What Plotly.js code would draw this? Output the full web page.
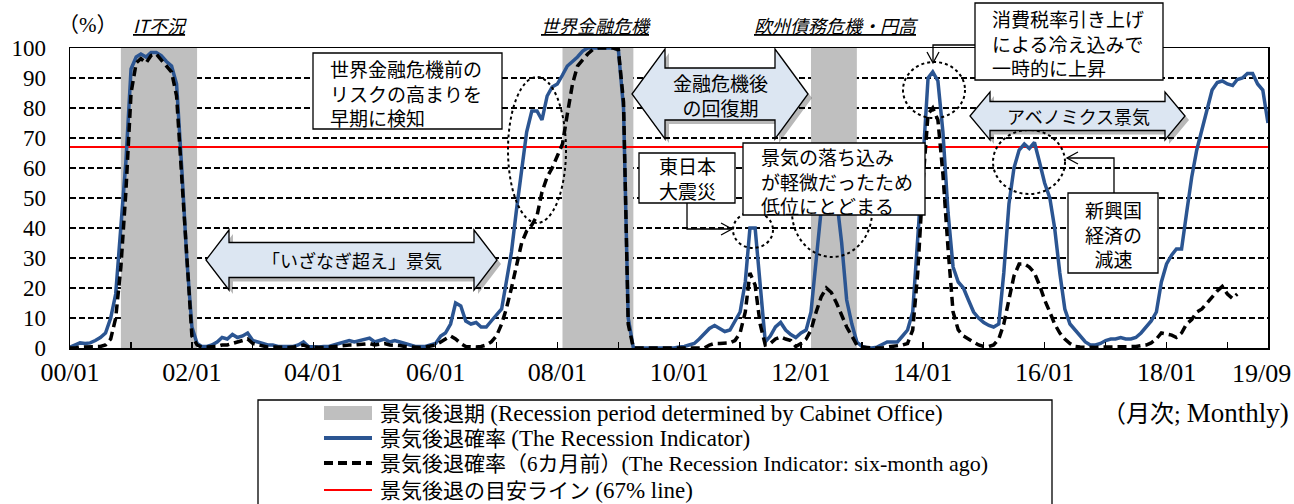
<!DOCTYPE html>
<html><head><meta charset="utf-8">
<script src="https://cdn.plot.ly/plotly-3.0.1.min.js"></script>
<style>html,body{margin:0;padding:0;background:#fff}#chart{width:1294px;height:504px}</style>
</head><body><div id="chart"></div>
<script>
// ---------------- DATA ----------------
const startYear = 2000;
// 景気後退確率 (The Recession Indicator), monthly 2000/01 - 2019/09
const recessionIndicator = [
 0.3,1,1.7,1.5,1.7,2.5,3.5,5,10,18,40,62,
 93,97,98,97,98.5,98.5,97.5,95.5,94,88,60,30,
 7,1.5,0.5,0.5,1,2,3.5,3,4.5,3.5,4,5,
 2.5,2,1.5,1,1,0.5,0.5,0.5,0.5,1,2,0.5,
 0.3,0.3,0.5,0.5,1,1.5,2,2.5,2,2.5,3,3.3,
 2,2.5,3,2,2.5,2,1.5,1,0.5,0.5,0.5,1,
 1.5,4,5,8,15,14,9,8,8.5,7,7,9,
 11,13,22,32,46,60,72,79,79,76,84,87,
 88,91,94,95.5,97,99,100,100,100,100,100,100,
 99.5,80,10,0,0,0,0,0,0,0,0,0,
 0.3,0.5,1,1.5,3,5,6.5,7.5,6.5,5.5,6,9,
 12,22,40,40,20,2,4,7,8.5,6,4.5,3.5,
 5,6,12,30,46,58,56,50,35,16,8,2,
 0.5,0,0,0.3,1,2,2,2,4,6,12,35,
 62,90,92,89,72,45,27,22,20,16,12,10,
 8.5,7.5,7,8,25,48,60,66,68,66.5,68.5,62,
 55,50,40,25,13,8,6,4,2,1,1,1.5,
 2.5,3,3,3.5,3,3,3.5,5,7,9,12,22,
 28,31,33,33,45,57,66,73,80,86,88.5,89,
 88,87.5,89.5,90,91.5,91.5,88,86,75
];
// 景気後退確率（6カ月前）(six-month ago), monthly 2000/01 - 2019/03
const recessionIndicator6m = [
 0,0,0.3,0.3,0.3,0.3,0.5,1,3,10,27,52,
 85,95,96.5,95,97.5,98,96,94,92,84,57,27,
 4,1,0.3,0.3,0.3,0.5,1,1,1.5,2,2.5,3,
 1.5,1,0.5,0.3,0.3,0.2,0.2,0.2,0.3,0.5,1,0.3,
 0.2,0.2,0.2,0.3,0.5,0.5,0.8,1,1,1.2,1.5,1.5,
 1,1.2,1.5,1,1,0.8,0.5,0.3,0.2,0.2,0.3,0.5,
 1,2,3,4,3,1.5,0.5,0.3,0.3,0.5,1,2,
 4,8,13,20,27,35,39,41,44,52,57,60,
 64,68,78,88,94,96,98,99.5,100,100,100,100,
 99.5,82,8,0,0,0,0,0,0,0,0,0,
 0,0,0,0,0,0,1,1.5,1.5,1.5,1.7,2.5,
 5,12,25,21,8,1,1.5,3,3.7,3,2.5,0.5,
 1.5,3,6,12,17,20,18.5,15,11,7,4,1,
 0.3,0,0,0,0,0.3,0.5,1,1,1.5,6,25,
 55,78,80,76,58,33,12,6,4,3,2,1,
 0.5,0.5,1,3,8,16,24,28,28,27,25,21,
 16,12,8,5,3,1.5,0.5,0.3,0.2,0.2,0.2,0.3,
 0.3,0.5,0.5,0.5,0.5,0.5,0.5,0.8,1,1.7,3,5,
 4.5,4.3,3.5,5,8,9.5,12,13,15,17,19,20.5,
 18,16.5,18
];
const thresholdValue = 67;
const recessionPeaks   = ['2000-11','2008-02','2012-03'];
const recessionTroughs = ['2002-01','2009-03','2012-11'];
const tickLabels = ['00/01','02/01','04/01','06/01','08/01','10/01','12/01','14/01','16/01','18/01','19/09'];
const seriesNamesJP = ['景気後退期 ','景気後退確率 ','景気後退確率（6カ月前）','景気後退の目安ライン '];
const seriesNamesEN = ['(Recession period determined by Cabinet Office)','(The Recession Indicator)','(The Recession Indicator: six-month ago)','(67% line)'];

// ---------------- helpers ----------------
function monthDate(i){ const y = startYear + Math.floor(i/12), m = i%12+1; return y+'-'+String(m).padStart(2,'0')+'-01'; }
function nextMonth(ym){ let [y,m]=ym.split('-').map(Number); m++; if(m>12){m=1;y++;} return y+'-'+String(m).padStart(2,'0')+'-01'; }
const xBlue = recessionIndicator.map((_,i)=>monthDate(i));
const xDash = recessionIndicator6m.map((_,i)=>monthDate(i));
const tickVals = tickLabels.map(l=>'20'+l.slice(0,2)+'-'+l.slice(3)+'-01');
const lastLabel = tickLabels[tickLabels.length-1];
// the final label sits at the right edge; it is drawn as an annotation so it is not clipped
const tickText = tickLabels.map((l,i)=> i===tickLabels.length-1 ? '' : l);
const seriesNames = seriesNamesJP.map((j,i)=>j+seriesNamesEN[i]);

const recX=[], recY=[];
recessionPeaks.forEach((p,i)=>{
  const s=p+'-01', e=nextMonth(recessionTroughs[i]);
  recX.push(s,s,e,e,s,null); recY.push(0,100,100,0,0,null);
});

// plot area in pixels (for decorations)
const L=70, R=1268, T=48, B=348;
const px = x => (x-L)/(R-L);
const py = y => (B-y)/(B-T);
function path(pts, close){ return pts.map((p,i)=>(i?'L':'M')+px(p[0]).toFixed(5)+','+py(p[1]).toFixed(5)).join(' ')+(close?' Z':''); }
function dblArrow(xl,xr,yc,hh,sh,hl){
  return [[xl,yc],[xl+hl,yc-hh],[xl+hl,yc-sh],[xr-hl,yc-sh],[xr-hl,yc-hh],[xr,yc],[xr-hl,yc+hh],[xr-hl,yc+sh],[xl+hl,yc+sh],[xl+hl,yc+hh]];
}
function shift(pts,d){ return pts.map(p=>[p[0]+d,p[1]+d]); }
const shapes=[];
function addBlockArrow(pts){
  shapes.push({type:'path',xref:'paper',yref:'paper',path:path(shift(pts,4),true),fillcolor:'rgba(0,0,0,0.28)',line:{width:0}});
  shapes.push({type:'path',xref:'paper',yref:'paper',path:path(pts,true),fillcolor:'#dce6f2',line:{color:'#000',width:1.3}});
}
function addCircle(cx,cy,rx,ry){
  shapes.push({type:'circle',xref:'paper',yref:'paper',x0:px(cx-rx),x1:px(cx+rx),y0:py(cy+ry),y1:py(cy-ry),line:{color:'#000',width:2,dash:'dot'}});
}
function addBox(x0,y0,x1,y1,fill,lw){
  shapes.push({type:'rect',xref:'paper',yref:'paper',x0:px(x0),x1:px(x1),y0:py(y1),y1:py(y0),fillcolor:fill||'#fff',line:{color:'#000',width:lw===undefined?1.3:lw}});
}
function addLine(pts,color,width,dash){
  shapes.push({type:'path',xref:'paper',yref:'paper',path:path(pts,false),line:{color:color||'#000',width:width||1.3,dash:dash||'solid'}});
}

// dotted circles
addCircle(537,150,29,73);
addCircle(753,230,20,18);
addCircle(832,212,40,45);
addCircle(934,90,31,28);
addCircle(1029,162,36,32);
// block arrows
addBlockArrow(dblArrow(206,497,260,30,17.5,23));
addBlockArrow(dblArrow(632,808,94,45,26,33));
addBlockArrow(dblArrow(970,1185,116,24,14.5,20));
// boxes
addBox(313,53,502,129);
addBox(639,153,735,203);
addBox(743,143,925,215);
addBox(975,3,1163,80);
addBox(1068,193,1158,273);
// connector lines & arrowheads
addLine([[975,45],[933,45],[933,62]]); addLine([[927,52],[933,63],[939,52]]);
addLine([[1114,193],[1114,158],[1067,158]]); addLine([[1078,152],[1067,158],[1078,164]]);
addLine([[687,203],[687,229],[732,229]]); addLine([[721,223],[732,229],[721,235]]);
// legend frame and swatches
addBox(258,400,1052,530);
const legendRowsY=[413,438,463,490];
addBox(324,406,372,420,'#bfbfbf',0);
addLine([[324,legendRowsY[1]],[372,legendRowsY[1]]],'#2b5592',4);
addLine([[324,legendRowsY[2]],[372,legendRowsY[2]]],'#000',4,'9px,5px');
addLine([[324,legendRowsY[3]],[372,legendRowsY[3]]],'#ff0000',2);

const JP = 'Noto Sans CJK JP, sans-serif';
const SERIF = 'Liberation Serif, Noto Sans CJK JP, serif';
function ann(text,x,y,opts){
  return Object.assign({text:text,xref:'paper',yref:'paper',x:px(x),y:py(y),showarrow:false,
    xanchor:'center',yanchor:'middle',align:'center',font:{family:JP,size:19,color:'#000'}},opts||{});
}
const annotations=[
 ann('（%）',88,25,{font:{family:SERIF,size:21,color:'#000'}}),
 ann('<i><u>IT不況</u></i>',160,25,{font:{family:JP,size:18,color:'#000'}}),
 ann('<i><u>世界金融危機</u></i>',596,25,{font:{family:JP,size:18,color:'#000'}}),
 ann('<i><u>欧州債務危機・円高</u></i>',836,25,{font:{family:JP,size:18,color:'#000'}}),
 ann('世界金融危機前の<br>リスクの高まりを<br>早期に検知',328,93,{xanchor:'left',align:'left'}),
 ann('東日本<br>大震災',687,178),
 ann('景気の落ち込み<br>が軽微だったため<br>低位にとどまる',759,181,{xanchor:'left',align:'left'}),
 ann('消費税率引き上げ<br>による冷え込みで<br>一時的に上昇',990,43,{xanchor:'left',align:'left'}),
 ann('新興国<br>経済の<br>減速',1113,234),
 ann('金融危機後<br>の回復期',720,95),
 ann('アベノミクス景気',1078,116,{font:{family:JP,size:18,color:'#000'}}),
 ann('「いざなぎ超え」景気',352,260,{font:{family:JP,size:18,color:'#000'}}),
 ann(lastLabel,1293,373,{xanchor:'right',font:{family:SERIF,size:26,color:'#000'}}),
 ann('<span style="font-size:24px">（月次; </span>Monthly)',1291,413,{xanchor:'right',font:{family:SERIF,size:27,color:'#000'}})
];
seriesNamesJP.forEach((j,i)=>{
  annotations.push(ann('<span style="font-size:21px">'+j+'</span>'+seriesNamesEN[i],378,legendRowsY[i],
    {xanchor:'left',align:'left',font:{family:SERIF,size:i===2?22:23,color:'#000'}}));
});

const traces=[
 {type:'scatter',mode:'none',x:recX,y:recY,fill:'toself',fillcolor:'#bfbfbf',name:seriesNames[0],hoverinfo:'skip'},
 {type:'scatter',mode:'lines',x:[xBlue[0],xBlue[xBlue.length-1]],y:[thresholdValue,thresholdValue],line:{color:'#ff0000',width:2},name:seriesNames[3]},
 {type:'scatter',mode:'lines',x:xBlue,y:recessionIndicator,line:{color:'#2b5592',width:3.5},name:seriesNames[1]},
 {type:'scatter',mode:'lines',x:xDash,y:recessionIndicator6m,line:{color:'#000',width:3.5,dash:'9px,5px'},name:seriesNames[2]}
];

const layout={
  width:1294,height:504,
  margin:{l:L,r:1294-R,t:T,b:504-B,pad:0},
  paper_bgcolor:'#fff',plot_bgcolor:'#fff',
  showlegend:false,
  xaxis:{type:'date',range:[xBlue[0],'2019-09-01 06:00'],tickmode:'array',tickvals:tickVals,ticktext:tickText,
    ticks:'inside',ticklen:6,tickcolor:'#000',tickwidth:1.3,showgrid:false,zeroline:false,
    showline:true,mirror:true,linecolor:'#000',linewidth:1.5,ticklabelstandoff:0,
    tickfont:{family:SERIF,size:26,color:'#000'},
    minor:{tickmode:'linear',tick0:'2000-01-01',dtick:'M12',ticks:'inside',ticklen:6,tickcolor:'#000',showgrid:false}},
  yaxis:{range:[0,100],tickmode:'linear',tick0:0,dtick:10,showgrid:true,gridcolor:'#000',gridwidth:1.2,griddash:'6px,3px',
    zeroline:false,showline:true,mirror:true,linecolor:'#000',linewidth:1.5,ticks:'',ticklabelstandoff:18,
    tickfont:{family:SERIF,size:23,color:'#000'}},
  shapes:shapes,
  annotations:annotations
};
Plotly.newPlot('chart',traces,layout,{displayModeBar:false,staticPlot:true});
</script>
</body></html>
